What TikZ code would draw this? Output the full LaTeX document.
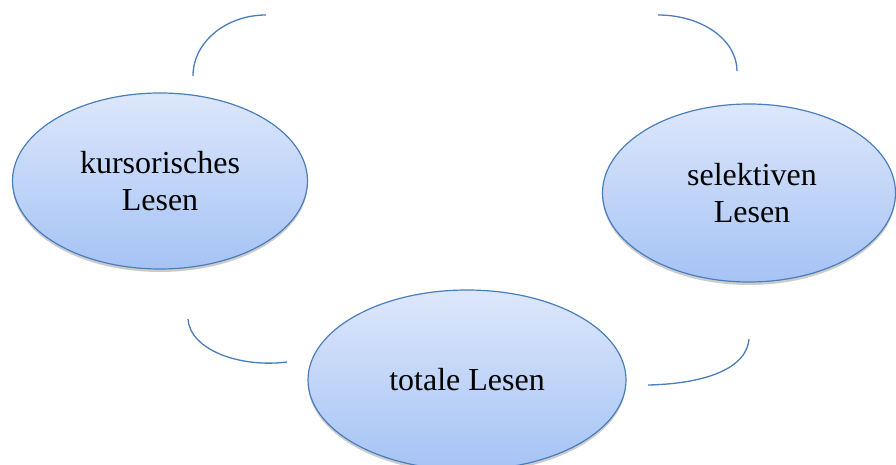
\documentclass[tikz,border=0pt]{standalone}
\usepackage{fontspec}
\setmainfont{Liberation Serif}
\usepackage{tikz}
\usetikzlibrary{shapes.geometric, shadows}

\definecolor{ringblue}{HTML}{4A7EBB}
\definecolor{filltop}{HTML}{DDE7FB}
\definecolor{fillbottom}{HTML}{A5C3F5}

\begin{document}
\begin{tikzpicture}[
    x=1pt, y=-1pt,
    reading/.style={ellipse, draw=ringblue, line width=1.2pt, top color=filltop, bottom color=fillbottom, inner sep=0pt, align=center, font=\fontsize{32}{37}\selectfont, drop shadow={shadow xshift=0pt, shadow yshift=-3pt, opacity=0.2, fill=black}},
    cycle_arc/.style={draw=ringblue, line width=1.3pt}
]
\useasboundingbox (0,0) rectangle (896,465);

% Nodes for the three kinds of reading
\node[reading, minimum width=295pt, minimum height=176pt] (kursorisch) at (160,181) {kursorisches\\Lesen};
\node[reading, minimum width=293pt, minimum height=178pt] (selektiv) at (749,193) {\hspace*{6pt}selektiven\\\hspace*{6pt}Lesen};
\node[reading, minimum width=318pt, minimum height=180pt] (total) at (467,380) {totale Lesen};

% End points of the arcs between them
\coordinate (kurs_sel_a) at (193,76);
\coordinate (kurs_sel_b) at (266,15);
\coordinate (sel_top_a) at (658,15);
\coordinate (sel_top_b) at (737,71);
\coordinate (kurs_tot_a) at (188,319);
\coordinate (kurs_tot_b) at (287,362);
\coordinate (tot_sel_a) at (648,385);
\coordinate (tot_sel_b) at (749,339);

% Arcs
\path[cycle_arc] (kurs_sel_a) .. controls (193,42) and (226,15) .. (kurs_sel_b);
\path[cycle_arc] (sel_top_a) .. controls (702,15) and (737,40) .. (sel_top_b);
\path[cycle_arc] (kurs_tot_a) .. controls (190,350) and (240,368) .. (kurs_tot_b);
\path[cycle_arc] (tot_sel_a) .. controls (697,384) and (746,372) .. (tot_sel_b);

\end{tikzpicture}
\end{document}
